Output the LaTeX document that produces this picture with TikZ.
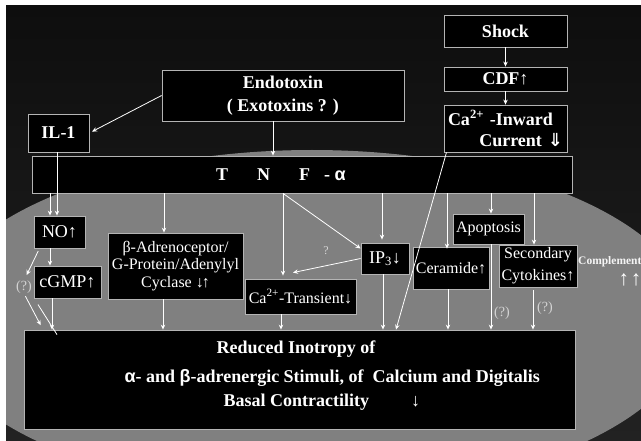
\documentclass[tikz,border=0pt]{standalone}
\usepackage{fontspec}
\setmainfont{Liberation Serif}
\newfontfamily\greekf{Liberation Sans}
\newfontfamily\arrowf{DejaVu Sans}
\usetikzlibrary{arrows.meta}

\definecolor{slidetop}{HTML}{0E0E0E}
\definecolor{slidebot}{HTML}{222222}
\definecolor{oval}{HTML}{808080}
\definecolor{rim}{HTML}{B4B4B4}
\definecolor{faint}{HTML}{D4D4D4}

\tikzset{
  box/.style={draw=rim, fill=black, line width=0.8pt, text=white, inner sep=1pt},
  bigtxt/.style={font=\fontsize{18}{23}\selectfont\bfseries},
  medtxt/.style={font=\fontsize{18}{20}\selectfont},
  smalltxt/.style={font=\fontsize{16}{17.5}\selectfont},
  query/.style={text=faint, font=\fontsize{14}{14}\selectfont, inner sep=0pt},
  link/.style={draw=white, line width=0.8pt, -{Stealth[length=5pt,width=4.5pt]}},
  plain/.style={draw=white, line width=0.8pt},
}

\begin{document}
\begin{tikzpicture}[x=1pt,y=-1pt]
\useasboundingbox (0,0) rectangle (641,441);
\fill[white] (0,0) rectangle (641,441);
\shade[top color=slidetop,bottom color=slidebot] (6,6) rectangle (641,441);
\begin{scope}
\clip (6,6) rectangle (641,441);
\fill[oval] (312,322) ellipse [x radius=381pt, y radius=172pt];
\end{scope}

% upper boxes
\node[box,bigtxt,minimum width=242pt,minimum height=51pt,align=center] (endo) at (283,95.5) {Endotoxin\\( Exotoxins ? )};
\node[box,bigtxt,minimum width=61pt,minimum height=38pt] (il1) at (58.5,133) {IL-1};
\node[box,bigtxt,minimum width=123pt,minimum height=32pt] (shock) at (505.5,31) {Shock};
\node[box,bigtxt,minimum width=123pt,minimum height=24pt] (cdf) at (505.5,79) {CDF↑};
\node[box,bigtxt,minimum width=123pt,minimum height=47pt,text width=115pt,align=left,font=\fontsize{18}{21}\selectfont\bfseries] (ca) at (505.5,128.5)
  {Ca\textsuperscript{2+} -Inward\\\hfill Current {\arrowf\bfseries ⇓}};
\node[box,minimum width=540pt,minimum height=37pt] (tnf) at (302,174.5) {};
\node[text=white,bigtxt] (tnflbl) at (281,175) {T\hspace{29pt}N\hspace{29pt}F\hspace{14pt}- {\greekf α}};

% middle row
\node[box,medtxt,minimum width=51pt,minimum height=32pt] (no) at (59.5,232) {NO↑};
\node[box,medtxt,minimum width=67pt,minimum height=32pt] (cgmp) at (67.5,282) {cGMP↑};
\node[query] (q1) at (24,287) {(?)};
\node[box,smalltxt,minimum width=135pt,minimum height=66pt,align=center] (beta) at (175.5,266)
  {β-Adrenoceptor/\\G-Protein/Adenylyl\\Cyclase ↓\kern-2pt↑};
\node[box,smalltxt,minimum width=111pt,minimum height=35pt] (catr) at (300.5,296.5) {Ca\textsuperscript{2+}-Transient↓};
\node[box,medtxt,minimum width=48pt,minimum height=31pt] (ip3) at (385,258.5) {IP\textsubscript{3}↓};
\node[query,font=\fontsize{12}{12}\selectfont] (q0) at (326,251) {?};
\node[box,smalltxt,minimum width=76pt,minimum height=42pt] (ceram) at (451,268) {Ceramide↑};
\node[box,smalltxt,minimum width=71pt,minimum height=30pt] (apop) at (488.5,229) {Apoptosis};
\node[box,smalltxt,minimum width=78pt,minimum height=42pt,align=center,font=\fontsize{16}{22}\selectfont] (secc) at (538,266) {Secondary\\Cytokines↑};
\node[query] (q2) at (502,313) {(?)};
\node[query] (q3) at (545,308) {(?)};
\node[anchor=west,text=white!92!gray,inner sep=0pt,font=\fontsize{11.5}{11.5}\selectfont\bfseries] (compl) at (578,262) {Complement};
\node[text=white,inner sep=0pt,font=\fontsize{21}{21}\selectfont\bfseries] (compup) at (630,280) {↑\hspace{2pt}↑};

% bottom box
\node[box,minimum width=551pt,minimum height=99pt] (reduced) at (300,379.5) {};
\node[text=white,bigtxt] (red1) at (296,349) {Reduced Inotropy of};
\node[text=white,bigtxt,anchor=west] (red2) at (121,378) {{\greekf α}- and {\greekf β}-adrenergic Stimuli, of\ \ Calcium and Digitalis};
\node[text=white,bigtxt,anchor=west] (red3) at (220,402) {Basal Contractility\hspace{42pt}{\mdseries ↓}};

% connectors
\draw[link,shorten >=3pt] (endo.west) -- (il1.east);
\draw[link] ([xshift=-10pt]endo.south) -- ([xshift=-10pt]endo.south |- tnf.north);
\draw[link] (shock.south) -- (cdf.north);
\draw[link] (cdf.south) -- (ca.north);
\draw[link] ([xshift=-59pt]ca.south) -- ([xshift=96pt]reduced.north);

\draw[link] ([xshift=-1.5pt]il1.south) -- ([xshift=-1.5pt]il1.south |- no.north);
\draw[link] ([xshift=-9.5pt]no.north |- tnf.south) -- ([xshift=-9.5pt]no.north);
\draw[link] ([xshift=-9.5pt]no.south) -- ([xshift=-9.5pt]no.south |- cgmp.north);
\draw[link,shorten <=3pt,shorten >=6pt] ([xshift=-20pt]no.south) -- (q1.north);
\draw[link,shorten <=3pt,shorten >=5pt] (q1.south) -- ([xshift=-257pt]reduced.north);
\draw[plain] ([shift={(14,11)}]q1.south) -- ([shift={(-243,5)}]reduced.north);
\draw[link] ([xshift=-15.5pt]cgmp.south) -- ([xshift=-15.5pt]cgmp.south |- reduced.north);

\draw[link] ([xshift=-11.5pt]beta.north |- tnf.south) -- ([xshift=-11.5pt]beta.north);
\draw[link] ([xshift=-12.5pt]beta.south) -- ([xshift=-12.5pt]beta.south |- reduced.north);

\draw[link,shorten >=3pt] ([xshift=-17.5pt]catr.north |- tnf.south) -- ([xshift=-17.5pt]catr.north);
\draw[link] ([xshift=-17.5pt]catr.north |- tnf.south) -- ([shift={(0,-10)}]ip3.west);
\draw[link] (ip3.west) -- ([shift={(-7.5,-6)}]catr.north);
\draw[link] ([xshift=-19.5pt]catr.south) -- ([xshift=-19.5pt]catr.south |- reduced.north);

\draw[link,shorten >=3pt] ([xshift=-3pt]ip3.north |- tnf.south) -- ([xshift=-3pt]ip3.north);
\draw[link] ([xshift=-2pt]ip3.south) -- ([xshift=-2pt]ip3.south |- reduced.north);
\draw[link] ([xshift=-4pt]ceram.north |- tnf.south) -- ([shift={(-4,2)}]ceram.north);
\draw[link] ([xshift=-3pt]ceram.south) -- ([xshift=-3pt]ceram.south |- reduced.north);
\draw[link] ([xshift=2.5pt]apop.north |- tnf.south) -- ([xshift=2.5pt]apop.north);
\draw[link] ([xshift=2.5pt]apop.south) -- ([xshift=2.5pt]apop.south |- reduced.north);
\draw[link] ([xshift=-4pt]secc.north |- tnf.south) -- ([xshift=-4pt]secc.north);
\draw[link,shorten <=3pt] ([xshift=-5pt]secc.south) -- ([xshift=-5pt]secc.south |- reduced.north);
\end{tikzpicture}
\end{document}
